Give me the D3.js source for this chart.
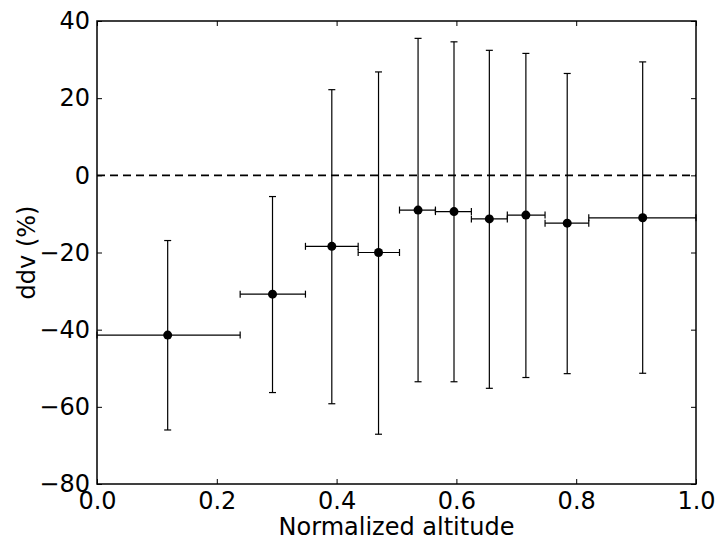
<!DOCTYPE html>
<html>
<head>
<meta charset="utf-8">
<script src="https://cdn.jsdelivr.net/npm/d3@7"></script>
<style>
body { margin: 0; background: #fff; }
svg { display: block; }
text { font-family: "DejaVu Sans", sans-serif; fill: #000; }
</style>
</head>
<body>
<svg id="chart" width="716" height="542"></svg>
<script>
const xCenters = [0.118, 0.293, 0.392, 0.470, 0.536, 0.596, 0.655, 0.716, 0.785, 0.911];
const yValues  = [-41.4, -30.8, -18.4, -20.0, -9.0, -9.4, -11.3, -10.3, -12.4, -11.0];
const xLow     = [0.000, 0.239, 0.348, 0.436, 0.505, 0.565, 0.625, 0.685, 0.748, 0.821];
const xHigh    = [0.239, 0.348, 0.436, 0.505, 0.565, 0.625, 0.685, 0.748, 0.821, 1.000];
const yLow     = [-66.0, -56.3, -59.2, -67.1, -53.5, -53.5, -55.2, -52.4, -51.4, -51.3];
const yHigh    = [-16.9, -5.5, 22.2, 26.8, 35.5, 34.6, 32.4, 31.6, 26.4, 29.4];
const xTicks = [0.0, 0.2, 0.4, 0.6, 0.8, 1.0];
const yTicks = [-80, -60, -40, -20, 0, 20, 40];
const xLabel = "Normalized altitude";
const yLabel = "ddv (%)";

const svg = d3.select("#chart");
const L = 97, R = 696, T = 21, B = 484;
const x = d3.scaleLinear().domain([0, 1]).range([L, R]);
const y = d3.scaleLinear().domain([-80, 40]).range([B, T]);
const fmtX = d3.format(".1f");
const fmtY = v => (v < 0 ? "\u2212" + Math.abs(v) : String(v));
const tickLen = 5;
const fs = 24;

// axes with inward ticks on all four sides
const axB = d3.axisBottom(x).tickValues(xTicks).tickFormat(fmtX).tickSizeInner(-tickLen).tickSizeOuter(0).tickPadding(8);
const axT = d3.axisTop(x).tickValues(xTicks).tickFormat("").tickSizeInner(-tickLen).tickSizeOuter(0);
const axL = d3.axisLeft(y).tickValues(yTicks).tickFormat(fmtY).tickSizeInner(-tickLen).tickSizeOuter(0).tickPadding(7);
const axR = d3.axisRight(y).tickValues(yTicks).tickFormat("").tickSizeInner(-tickLen).tickSizeOuter(0);

function styleAxis(g) {
  g.select(".domain").remove();
  g.selectAll(".tick line").attr("stroke", "#000").attr("stroke-width", 1);
  g.selectAll("text").attr("font-size", fs).attr("font-family", "DejaVu Sans").attr("fill", "#000");
}
svg.append("g").attr("transform", `translate(0,${B})`).call(axB).call(styleAxis);
svg.append("g").attr("transform", `translate(0,${T})`).call(axT).call(styleAxis);
svg.append("g").attr("transform", `translate(${L},0)`).call(axL).call(styleAxis);
svg.append("g").attr("transform", `translate(${R},0)`).call(axR).call(styleAxis);

// zero dashed line
svg.append("line")
  .attr("x1", x(0)).attr("x2", x(1)).attr("y1", y(0)).attr("y2", y(0))
  .attr("stroke", "#000").attr("stroke-width", 1.6).attr("stroke-dasharray", "8,5");

const data = xCenters.map((c, i) => ({ c, v: yValues[i], xl: xLow[i], xh: xHigh[i], yl: yLow[i], yh: yHigh[i] }));
const cap = 3.5;
const eg = svg.append("g").attr("stroke", "#000").attr("stroke-width", 1.2).attr("fill", "none");
data.forEach(d => {
  // vertical error bar
  eg.append("line").attr("x1", x(d.c)).attr("x2", x(d.c)).attr("y1", y(d.yl)).attr("y2", y(d.yh));
  eg.append("line").attr("x1", x(d.c) - cap).attr("x2", x(d.c) + cap).attr("y1", y(d.yl)).attr("y2", y(d.yl));
  eg.append("line").attr("x1", x(d.c) - cap).attr("x2", x(d.c) + cap).attr("y1", y(d.yh)).attr("y2", y(d.yh));
  // horizontal error bar
  eg.append("line").attr("x1", x(d.xl)).attr("x2", x(d.xh)).attr("y1", y(d.v)).attr("y2", y(d.v));
  eg.append("line").attr("x1", x(d.xl)).attr("x2", x(d.xl)).attr("y1", y(d.v) - cap).attr("y2", y(d.v) + cap);
  eg.append("line").attr("x1", x(d.xh)).attr("x2", x(d.xh)).attr("y1", y(d.v) - cap).attr("y2", y(d.v) + cap);
});

svg.append("g").selectAll("circle").data(data).join("circle")
  .attr("cx", d => x(d.c)).attr("cy", d => y(d.v)).attr("r", 4.5).attr("fill", "#000");

// frame
svg.append("rect").attr("x", L).attr("y", T).attr("width", R - L).attr("height", B - T)
  .attr("fill", "none").attr("stroke", "#000").attr("stroke-width", 1.5);

// axis labels
svg.append("text").attr("x", (L + R) / 2).attr("y", 535).attr("text-anchor", "middle")
  .attr("font-size", fs).text(xLabel);
svg.append("text").attr("transform", `translate(35,${(T + B) / 2}) rotate(-90)`).attr("text-anchor", "middle")
  .attr("font-size", fs).text(yLabel);
</script>
</body>
</html>
